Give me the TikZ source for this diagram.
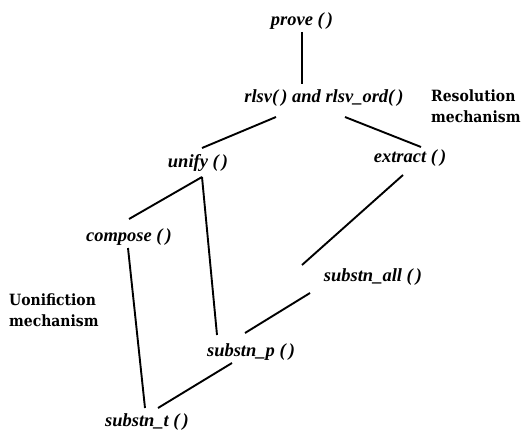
\documentclass[tikz,border=0pt]{standalone}
\usepackage{fontspec}
\setmainfont{Liberation Serif}
\newfontfamily\lblfont{DejaVu Serif Condensed}
\usetikzlibrary{calc}
\tikzset{
  fn/.style={inner sep=0pt, font=\fontsize{18.5}{20}\selectfont\bfseries\itshape},
  mech/.style={inner sep=0pt, anchor=west, align=left, font=\fontsize{15.5}{21.5}\selectfont\lblfont\bfseries},
  link/.style={line width=1.9pt}
}
\begin{document}
\begin{tikzpicture}[x=1pt,y=-1pt]
\useasboundingbox (0,0) rectangle (521,433);
\node[fn] (prove) at (302,21) {prove (\,)};
\node[fn] (rlsv) at (324,98) {rlsv(\,) and rlsv\_ord(\,)};
\node[fn] (unify) at (198,163) {unify (\,)};
\node[fn] (extract) at (410,158) {extract (\,)};
\node[fn] (compose) at (129,237) {compose (\,)};
\node[fn] (sall) at (373,277) {substn\_all (\,)};
\node[fn] (sp) at (251,352) {substn\_p (\,)};
\node[fn] (st) at (147,422) {substn\_t (\,)};
\node[mech] (res) at (431,106) {Resolution\\mechanism};
\node[mech] (uni) at (9,310) {Uonifiction\\mechanism};
\draw[link] ($(prove)+(0,11)$) -- ($(rlsv)+(-22,-14)$);
\draw[link] ($(rlsv)+(-48,19)$) -- ($(unify)+(4,-15)$);
\draw[link] ($(rlsv)+(21,19)$) -- ($(extract)+(11,-11)$);
\draw[link] ($(unify)+(4,14)$) -- ($(compose)+(0,-18)$);
\draw[link] ($(unify)+(4,14)$) -- ($(sp)+(-34,-17)$);
\draw[link] ($(compose)+(-1,11)$) -- ($(st)+(-2,-14)$);
\draw[link] ($(extract)+(-7,17)$) -- ($(sall)+(-71,-12)$);
\draw[link] ($(sall)+(-63,16)$) -- ($(sp)+(-6,-19)$);
\draw[link] ($(sp)+(-19,11)$) -- ($(st)+(11,-14)$);
\end{tikzpicture}
\end{document}
